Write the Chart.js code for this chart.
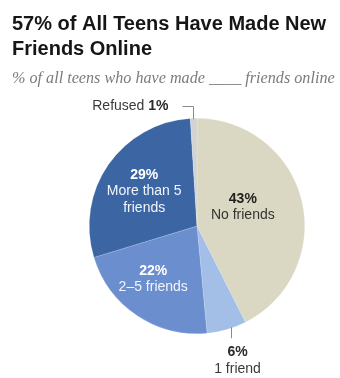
<!DOCTYPE html>
<html>
<head>
<meta charset="utf-8">
<script src="https://cdn.jsdelivr.net/npm/chart.js@4.4.1/dist/chart.umd.min.js"></script>
<style>
  html, body { margin: 0; padding: 0; background: #ffffff; }
  #wrap { position: relative; width: 340px; height: 378px; }
</style>
</head>
<body>
<div id="wrap"><canvas id="c" width="340" height="378"></canvas></div>
<script>
// ---- data ----
const categories = ["No friends", "1 friend", "2–5 friends", "More than 5 friends", "Refused"];
const values = [43, 6, 22, 29, 1];
const valueLabels = ["43%", "6%", "22%", "29%", "1%"];
const nameLines = [["No friends"], ["1 friend"], ["2–5 friends"], ["More than 5", "friends"], ["Refused"]];
const titleLines = ["57% of All Teens Have Made New", "Friends Online"];
const subtitleText = "% of all teens who have made ____ friends online";

// ---- styles ----
const colors = ["#dad8c3", "#a3bee7", "#6b8ecf", "#3c66a3", "#d3d3d3"];
const SANS = "'Liberation Sans', Arial, sans-serif";
const SERIF = "'Liberation Serif', 'DejaVu Serif', serif";

// label placement: polar offsets (deg clockwise from top, fraction of radius)
const insideLabels = {
  0: { angle: 67.6, rf: 0.46, valueColor: "#1f1f1f", nameColor: "#333333" },
  2: { angle: 219.4, rf: 0.64, valueColor: "#ffffff", nameColor: "#f2f5fb" },
  3: { angle: 303.1, rf: 0.585, valueColor: "#ffffff", nameColor: "#f2f5fb" }
};

const textPlugin = {
  id: 'textPlugin',
  afterDraw(chart) {
    const ctx = chart.ctx;
    const meta = chart.getDatasetMeta(0);
    const arc0 = meta.data[0];
    const cx = arc0.x, cy = arc0.y, R = arc0.outerRadius;
    const pt = (deg, r) => {
      const a = deg * Math.PI / 180;
      return [cx + Math.sin(a) * r, cy - Math.cos(a) * r];
    };
    ctx.save();
    // Title
    ctx.fillStyle = "#161616";
    ctx.font = "bold 20px " + SANS;
    ctx.textAlign = "left";
    ctx.textBaseline = "alphabetic";
    ctx.fillText(titleLines[0], 12, 30);
    ctx.fillText(titleLines[1], 12, 55);
    // Subtitle, fitted to width
    ctx.font = "italic 100px " + SERIF;
    const w100 = ctx.measureText(subtitleText).width;
    const fs = Math.min(17, 100 * 323 / w100);
    ctx.font = "italic " + fs.toFixed(2) + "px " + SERIF;
    ctx.fillStyle = "#7b7b7b";
    ctx.fillText(subtitleText, 12, 83);

    // Inside labels
    ctx.textAlign = "center";
    ctx.textBaseline = "middle";
    const lh = 16.5;
    Object.keys(insideLabels).forEach(k => {
      const i = +k, cfg = insideLabels[k];
      const [x, y] = pt(cfg.angle, R * cfg.rf);
      const lines = [valueLabels[i]].concat(nameLines[i]);
      const top = y - (lines.length - 1) * lh / 2;
      lines.forEach((ln, j) => {
        ctx.font = (j === 0 ? "bold " : "") + "14px " + SANS;
        ctx.fillStyle = j === 0 ? cfg.valueColor : cfg.nameColor;
        ctx.fillText(ln, x, top + j * lh);
      });
    });

    // Leader for "1 friend"
    ctx.strokeStyle = "#8a8a8a";
    ctx.lineWidth = 1;
    const [fx, fy] = pt(161.6, R);
    const lx = Math.round(fx) + 0.5;
    ctx.beginPath();
    ctx.moveTo(lx, fy - 1);
    ctx.lineTo(lx, fy + 10);
    ctx.stroke();
    ctx.font = "bold 14px " + SANS;
    ctx.fillStyle = "#2a2a2a";
    ctx.fillText(valueLabels[1], lx + 6, fy + 24);
    ctx.font = "14px " + SANS;
    ctx.fillStyle = "#3a3a3a";
    ctx.fillText(nameLines[1][0], lx + 6, fy + 41);

    // Leader for "Refused"
    const [rx, ry] = pt(357.9, R);
    const vx = Math.round(rx) + 0.5;
    const hy = Math.round(ry - 12) + 0.5;
    ctx.beginPath();
    ctx.moveTo(vx, ry + 1);
    ctx.lineTo(vx, hy);
    ctx.lineTo(vx - 11, hy);
    ctx.stroke();
    ctx.textAlign = "right";
    ctx.font = "bold 14px " + SANS;
    ctx.fillStyle = "#2a2a2a";
    const vw = ctx.measureText(valueLabels[4]).width;
    ctx.fillText(valueLabels[4], vx - 25, hy);
    ctx.font = "14px " + SANS;
    ctx.fillStyle = "#3a3a3a";
    ctx.fillText(nameLines[4][0] + " ", vx - 25 - vw, hy);
    ctx.restore();
  }
};

new Chart(document.getElementById('c'), {
  type: 'pie',
  data: {
    labels: categories,
    datasets: [{
      data: values,
      backgroundColor: colors,
      borderColor: "rgba(255,255,255,0.35)",
      borderWidth: 0.5,
      hoverOffset: 0
    }]
  },
  options: {
    responsive: false,
    animation: false,
    events: [],
    layout: { padding: { left: 89, right: 35, top: 118, bottom: 44 } },
    plugins: {
      legend: { display: false },
      title: { display: false },
      tooltip: { enabled: false }
    }
  },
  plugins: [textPlugin]
});
</script>
</body>
</html>
